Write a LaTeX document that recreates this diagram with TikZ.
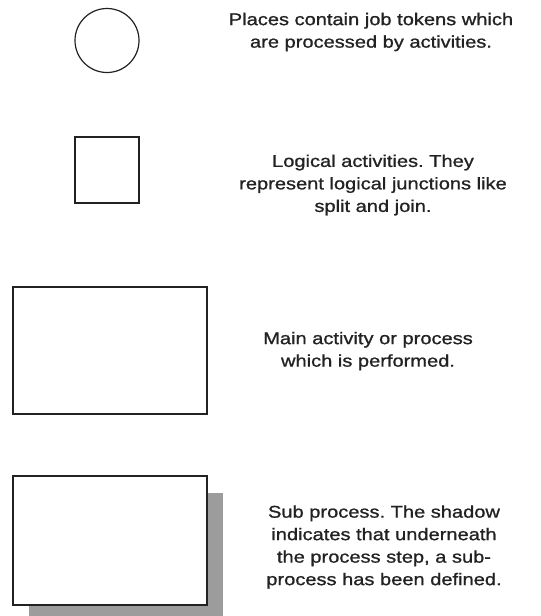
\documentclass[tikz,border=0pt]{standalone}
\usepackage{fontspec}
\setmainfont{Liberation Sans}[FakeStretch=1.18,FakeBold=1]
\usepackage{xcolor}
\definecolor{petshade}{HTML}{9C9C9C}
\definecolor{petline}{HTML}{222222}
\usepackage{tikz}
\usetikzlibrary{shadows}
\tikzset{
  petplace/.style={draw=petline,circle,minimum size=64pt,inner sep=0pt,line width=1.2pt},
  petlogic/.style={draw=petline,minimum width=64pt,minimum height=66pt,inner sep=0pt,line width=1.2pt},
  petmain/.style={draw=petline,minimum width=194pt,minimum height=127pt,inner sep=0pt,line width=1.2pt},
  petsub/.style={petmain,minimum height=129pt,fill=white,drop shadow={shadow xshift=16pt,shadow yshift=-17pt,fill=petshade,opacity=1}},
  petnote/.style={align=center,inner sep=0pt,text=petline,font=\fontsize{17}{22.5}\selectfont},
}
\frenchspacing

\begin{document}
\begin{tikzpicture}[x=1pt,y=-1pt]
\useasboundingbox (0,0) rectangle (541,616);
\node[petplace] (place) at (107,40.5) {};
\node[petnote] (placetxt) at (371,32) {Places contain job tokens which\\are processed by activities.};
\node[petlogic] (logic) at (107,170) {};
\node[petnote] (logictxt) at (373,185) {Logical activities. They\\represent logical junctions like\\split and join.};
\node[petmain] (main) at (110,350.5) {};
\node[petnote] (maintxt) at (368,351) {Main activity or process\\which is performed.};
\node[petsub] (sub) at (110,540.5) {};
\node[petnote] (subtxt) at (384,547) {Sub process. The shadow\\indicates that underneath\\the process step, a sub-\\process has been defined.};
\end{tikzpicture}
\end{document}
